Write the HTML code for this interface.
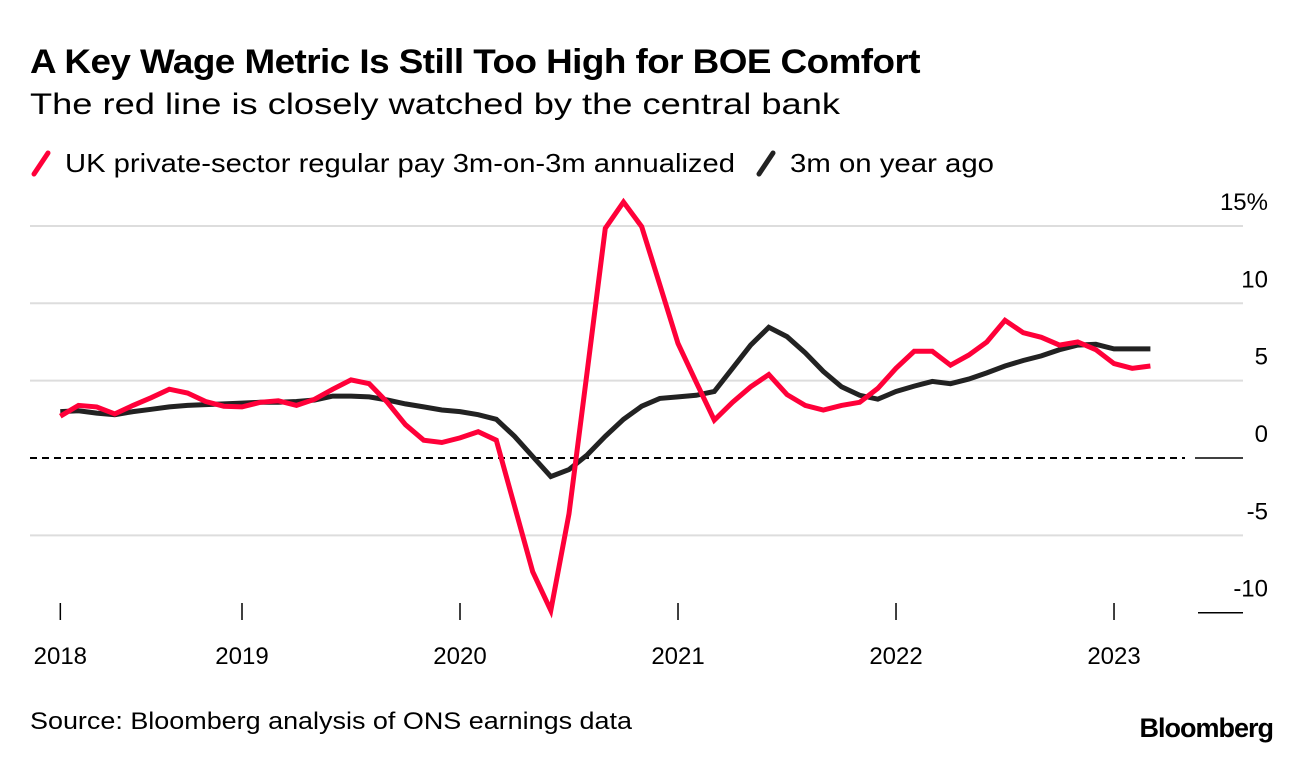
<!DOCTYPE html>
<html><head><meta charset="utf-8">
<style>
body{margin:0;background:#fff;}
svg{display:block;font-family:"Liberation Sans",Arial,sans-serif;}
</style></head>
<body>
<svg id="chart" width="1296" height="760" viewBox="0 0 1296 760" xmlns="http://www.w3.org/2000/svg">
<text x="30" y="73" font-size="34" font-weight="bold" fill="#000" textLength="890" lengthAdjust="spacingAndGlyphs" letter-spacing="-0.5">A Key Wage Metric Is Still Too High for BOE Comfort</text>
<text x="30" y="114" font-size="30" fill="#000" textLength="810" lengthAdjust="spacingAndGlyphs">The red line is closely watched by the central bank</text>
<g>
<line x1="34" y1="174" x2="48" y2="153" stroke="#ff0039" stroke-width="5" stroke-linecap="round"/>
<text x="65" y="172" font-size="26" fill="#000" textLength="670" lengthAdjust="spacingAndGlyphs">UK private-sector regular pay 3m-on-3m annualized</text>
<line x1="759" y1="174" x2="773" y2="153" stroke="#222" stroke-width="5" stroke-linecap="round"/>
<text x="790" y="172" font-size="26" fill="#000" textLength="204" lengthAdjust="spacingAndGlyphs">3m on year ago</text>
</g>
<g id="grid"></g>
<g id="xaxis"></g>
<g id="series"></g>
<text x="30" y="729" font-size="24" fill="#000" textLength="602" lengthAdjust="spacingAndGlyphs">Source: Bloomberg analysis of ONS earnings data</text>
<text x="1273" y="737" font-size="27" font-weight="bold" fill="#000" text-anchor="end" letter-spacing="-1">Bloomberg</text>
</svg>
<script>
// Monthly data, index 0 = Mar 2018, index 60 = Mar 2023
const redSeries = [2.7,3.4,3.3,2.85,3.4,3.9,4.45,4.2,3.65,3.35,3.3,3.6,3.7,3.4,3.8,4.45,5.05,4.8,3.6,2.15,1.15,1.0,1.3,1.7,1.15,-3.1,-7.35,-9.85,-3.6,5.6,14.85,16.55,14.95,11.2,7.4,4.9,2.45,3.6,4.6,5.4,4.1,3.4,3.1,3.4,3.6,4.5,5.8,6.9,6.9,6.0,6.65,7.5,8.9,8.1,7.8,7.3,7.5,7.0,6.1,5.8,5.95];
const blackSeries = [3.0,3.05,2.9,2.8,3.0,3.15,3.3,3.4,3.45,3.5,3.55,3.6,3.6,3.65,3.75,4.0,4.0,3.95,3.75,3.5,3.3,3.1,3.0,2.8,2.5,1.4,0.1,-1.2,-0.75,0.2,1.4,2.5,3.35,3.85,3.95,4.05,4.3,5.8,7.3,8.45,7.85,6.8,5.6,4.6,4.05,3.8,4.3,4.65,4.95,4.8,5.1,5.5,5.95,6.3,6.6,7.0,7.3,7.35,7.05,7.05,7.05];
const yTicks = [15,10,5,0,-5,-10];
const yTickLabels = ["15%","10","5","0","-5","-10"];
const xTickIndex = [0,10,22,34,46,58];
const xTickLabels = ["2018","2019","2020","2021","2022","2023"];

const NS="http://www.w3.org/2000/svg";
function xs(i){ return 242 + (i-10)*18.167; }
function ys(v){ return 458 - v*15.47; }
function mk(tag, attrs, parent){
  const e=document.createElementNS(NS,tag);
  for(const k in attrs) e.setAttribute(k, attrs[k]);
  parent.appendChild(e); return e;
}
const grid=document.getElementById('grid');
yTicks.forEach((v,k)=>{
  const y=ys(v);
  let ln;
  if(v===0){
    ln=mk('line',{x1:30,x2:1185,y1:y,y2:y,stroke:'#000','stroke-width':2,'stroke-dasharray':'7,5'},grid);
    
    
    const s=mk('line',{x1:1195,x2:1243,y1:y,y2:y,stroke:'#000','stroke-width':1.5},grid);
    
    
  } else if(v===-10){
    ln=mk('line',{x1:1198,x2:1243,y1:y,y2:y,stroke:'#000','stroke-width':1.5},grid);
    
    
  } else {
    ln=mk('line',{x1:30,x2:1243,y1:y,y2:y,stroke:'#ddd','stroke-width':2},grid);
    
    
  }
  const t=mk('text',{x:1268,y:y-16,'font-size':24,'text-anchor':'end',fill:'#000'},grid);
  t.textContent=yTickLabels[k];
  
  
});
const xa=document.getElementById('xaxis');
xTickIndex.forEach((i,k)=>{
  const x=xs(i);
  const tk=mk('line',{x1:x,x2:x,y1:603,y2:620,stroke:'#000','stroke-width':1.5},xa);
  
  
  const t=mk('text',{x:x,y:664,'font-size':24,'text-anchor':'middle',fill:'#000'},xa);
  t.textContent=xTickLabels[k];
  
  
});
const sg=document.getElementById('series');
function line(data,color,name){
  const d=data.map((v,i)=>(i?'L':'M')+xs(i).toFixed(1)+','+ys(v).toFixed(1)).join(' ');
  const p=mk('path',{d:d,fill:'none',stroke:color,'stroke-width':5,'stroke-linejoin':'miter','stroke-linecap':'butt'},sg);
  
  
}
line(blackSeries,'#222','line-3m-on-year-ago');
line(redSeries,'#ff0039','line-3m-on-3m-annualized');
</script>
</body></html>
